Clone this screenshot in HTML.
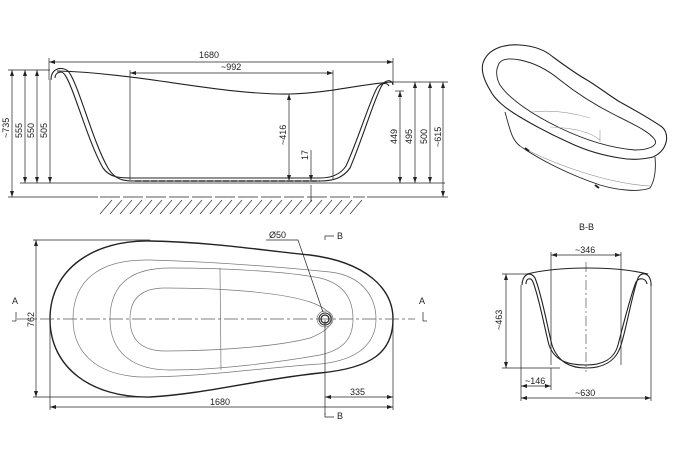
<!DOCTYPE html>
<html><head><meta charset="utf-8"><style>
html,body{margin:0;padding:0;background:#fff;}
svg{display:block;}
text{font-family:"Liberation Sans",sans-serif;font-size:9px;fill:#222;}
</style></head><body>
<svg width="673" height="456" viewBox="0 0 673 456" xmlns="http://www.w3.org/2000/svg">
<defs>
<marker id="a" markerWidth="6" markerHeight="6" refX="6" refY="3" orient="auto-start-reverse" markerUnits="userSpaceOnUse"><path d="M0,1 L6,3 L0,5 Z" fill="#222"/></marker>
</defs>
<g stroke="#222" fill="none" stroke-width="0.7">
<!-- ===== Side elevation ===== -->
<line x1="49" y1="62" x2="393" y2="62" marker-start="url(#a)" marker-end="url(#a)"/>
<line x1="49" y1="58" x2="49" y2="80"/><line x1="393" y1="58" x2="393" y2="85"/>
<line x1="130" y1="73" x2="333" y2="73" marker-start="url(#a)" marker-end="url(#a)"/>
<line x1="130" y1="70" x2="130" y2="180"/><line x1="333" y1="70" x2="333" y2="180"/>
<!-- left dims -->
<line x1="8" y1="70" x2="50" y2="70"/>
<line x1="12" y1="70" x2="12" y2="197" marker-start="url(#a)" marker-end="url(#a)"/>
<line x1="25" y1="70" x2="25" y2="183" marker-start="url(#a)" marker-end="url(#a)"/>
<line x1="37" y1="70" x2="37" y2="183" marker-start="url(#a)" marker-end="url(#a)"/>
<line x1="50" y1="80" x2="50" y2="183" marker-end="url(#a)"/>
<line x1="20" y1="183" x2="445" y2="183"/>
<line x1="8" y1="197" x2="98" y2="197"/>
<line x1="367" y1="197" x2="448" y2="197"/>
<line x1="100" y1="197" x2="365" y2="197" stroke-dasharray="20,3"/>
<!-- right dims -->
<line x1="390" y1="82" x2="448" y2="82"/>
<line x1="395" y1="91" x2="404" y2="91"/>
<line x1="400" y1="91" x2="400" y2="183" marker-start="url(#a)" marker-end="url(#a)"/>
<line x1="415" y1="82" x2="415" y2="183" marker-start="url(#a)" marker-end="url(#a)"/>
<line x1="430" y1="82" x2="430" y2="183" marker-start="url(#a)" marker-end="url(#a)"/>
<line x1="443" y1="82" x2="443" y2="197" marker-start="url(#a)" marker-end="url(#a)"/>
<line x1="289" y1="94" x2="289" y2="181" marker-start="url(#a)" marker-end="url(#a)"/>
<line x1="311" y1="150" x2="311" y2="181" marker-end="url(#a)"/>
<line x1="311" y1="185" x2="311" y2="202"/>
<!-- hatch -->
<g stroke-width="0.6">
<path d="M100,214 L112,200 M110,214 L122,200 M120,214 L132,200 M130,214 L142,200 M140,214 L152,200 M150,214 L162,200 M160,214 L172,200 M170,214 L182,200 M180,214 L192,200 M190,214 L202,200 M200,214 L212,200 M210,214 L222,200 M220,214 L232,200 M230,214 L242,200 M240,214 L252,200 M250,214 L262,200 M260,214 L272,200 M270,214 L282,200 M280,214 L292,200 M290,214 L302,200 M300,214 L312,200 M310,214 L322,200 M320,214 L332,200 M330,214 L342,200 M340,214 L352,200 M350,214 L362,200"/>
</g>
<!-- tub profile -->
<g stroke-width="1.1">
<path d="M51,80 C51,68 62,66 68,71 C78,82 92,140 108,168 C115,180 124,181 134,181 L320,181 C333,181 343,178 350,168 C362,140 374,100 381,87 C385,79 392,79 393,85"/>
<path d="M55,78 C55,72 62,70 65,75 C74,88 88,142 103,168 C110,178 120,178 134,178 L320,178 C331,178 340,175 346,166 C358,140 370,100 377,88 C380,83 387,82 389,86"/>
<path d="M57,71 C140,73 220,95 290,94 C330,93 360,84 392,82"/>
</g>
<path d="M135,181 L320,181" stroke-dasharray="6,2" stroke-width="2" stroke="#666"/>
<!-- ===== Plan view ===== -->
<path d="M50,319 C50,268 95,240 150,241 C210,242 260,250 310,255 C365,262 393,288 393,319 C393,352 372,368 320,373 C260,379 205,394 150,397 C92,398 50,368 50,319 Z" stroke-width="1.4"/>
<path d="M73,319 C73,280 100,259 150,260 C220,262 290,268 330,272 C365,276 376,300 376,319 C376,342 360,360 320,364 C260,368 210,376 150,377 C100,378 73,355 73,319 Z" stroke="#777"/>
<path d="M110,319 C110,285 130,268 170,268 C230,268 290,272 320,278 C345,284 353,300 353,319 C353,340 342,350 320,355 C280,362 220,370 170,370 C130,370 110,350 110,319 Z" stroke="#777"/>
<path d="M130,319 C130,298 142,288 165,288 C220,288 280,292 310,302 C325,307 332,314 332,319 C332,326 325,332 310,338 C280,346 220,351 165,351 C142,351 130,340 130,319 Z" stroke="#777"/>
<line x1="220" y1="268" x2="221" y2="370" stroke="#777"/>
<line x1="17" y1="319" x2="415" y2="319" stroke-dasharray="14,3,3,3" stroke="#555"/>
<circle cx="325" cy="319" r="8" stroke="#777"/><circle cx="325" cy="319" r="6" stroke-width="1"/><circle cx="325" cy="319" r="4" stroke-width="1.2"/>
<path d="M266,240 L298,240 L323,312"/>
<line x1="325" y1="320" x2="325" y2="415"/>
<line x1="33" y1="240" x2="150" y2="240"/><line x1="33" y1="397" x2="150" y2="397"/>
<line x1="36" y1="240" x2="36" y2="397" marker-start="url(#a)" marker-end="url(#a)"/>
<line x1="50" y1="319" x2="50" y2="410"/><line x1="393" y1="319" x2="393" y2="410"/>
<line x1="50" y1="407" x2="393" y2="407" marker-start="url(#a)" marker-end="url(#a)"/>
<line x1="325" y1="397" x2="393" y2="397" marker-start="url(#a)" marker-end="url(#a)"/>
<!-- section markers -->
<path d="M325,240 L325,236 L334,236"/><path d="M325,413 L325,417 L334,417"/>
<path d="M16,321 L16,312"/><path d="M423,321 L423,312"/>
<line x1="12" y1="321" x2="16" y2="321"/><line x1="423" y1="321" x2="427" y2="321"/>
<!-- ===== B-B section ===== -->
<line x1="551" y1="255" x2="621" y2="255" marker-start="url(#a)" marker-end="url(#a)"/>
<line x1="551" y1="252" x2="551" y2="365"/><line x1="621" y1="252" x2="621" y2="365"/>
<line x1="586" y1="262" x2="586" y2="372" stroke-dasharray="10,3,2,3" stroke="#555"/>
<line x1="502" y1="274" x2="530" y2="274"/><line x1="502" y1="368" x2="560" y2="368"/>
<line x1="506" y1="274" x2="506" y2="368" marker-start="url(#a)" marker-end="url(#a)"/>
<line x1="521" y1="285" x2="521" y2="401"/><line x1="651" y1="285" x2="651" y2="401"/>
<line x1="551" y1="368" x2="551" y2="390"/>
<line x1="521" y1="386" x2="551" y2="386" marker-start="url(#a)" marker-end="url(#a)"/>
<line x1="521" y1="398" x2="651" y2="398" marker-start="url(#a)" marker-end="url(#a)"/>
<g stroke-width="1.1">
<path d="M522,285 C522,275 530,270 535,278 C542,295 548,330 552,345 C558,362 570,368 586,368 C602,368 616,362 621,345 C626,330 632,295 638,278 C642,270 652,274 651,286"/>
<path d="M526,284 C526,278 531,277 533,282 C539,297 545,330 549,345 C555,362 570,365 586,365 C602,365 614,360 618,345 C622,330 630,297 636,282 C639,277 646,278 647,284"/>
<path d="M527,274 C560,266 615,266 648,274"/>
</g>
<!-- ===== Isometric view ===== -->
<g stroke-width="1.1">
<path d="M483,63 C488,48 505,44 520,45 C535,46 545,50 553,57 C568,68 578,75 587,80 C600,88 610,96 620,102 C640,113 652,120 662,127 C670,134 668,150 653,157 C640,160 630,160 620,158 C600,155 585,150 570,143 C550,134 535,126 520,117 C505,108 495,100 490,90 C484,80 481,70 483,63 Z"/>
<path d="M498,66 C500,58 510,58 520,60 C535,63 548,70 560,80 C575,92 595,105 615,115 C635,125 650,132 655,140 C658,146 648,150 635,150 C610,148 585,140 560,128 C535,116 510,100 500,85 C496,78 496,70 498,66 Z" stroke-width="0.9"/>
<path d="M505,112 C510,130 512,140 520,146 C540,160 570,175 600,185 C620,191 640,192 650,188 C655,180 656,168 655,157" stroke-width="0.9"/>
<path d="M520,146 C540,158 600,183 650,186" stroke="#888" stroke-width="0.6"/>
</g>
<path d="M532,112 C550,110 570,112 590,118 M550,127 C575,128 590,132 600,140 M600,130 L600,142" stroke="#999" stroke-width="0.6"/>
<path d="M525,148 l4,3 M595,185 l4,3" stroke-width="2"/>
</g>
<!-- text -->
<text x="199" y="58">1680</text>
<text x="221" y="70">~992</text>
<text transform="translate(9,138) rotate(-90)">~735</text>
<text transform="translate(22,138) rotate(-90)">555</text>
<text transform="translate(34,138) rotate(-90)">550</text>
<text transform="translate(47,138) rotate(-90)">505</text>
<text transform="translate(286,145) rotate(-90)">~416</text>
<text transform="translate(308,160) rotate(-90)">17</text>
<text transform="translate(397,144) rotate(-90)">449</text>
<text transform="translate(412,144) rotate(-90)">495</text>
<text transform="translate(427,144) rotate(-90)">500</text>
<text transform="translate(441,147) rotate(-90)">~615</text>
<text x="269" y="238">Ø50</text>
<text x="337" y="239">B</text>
<text x="337" y="419">B</text>
<text x="12" y="304">A</text>
<text x="419" y="304">A</text>
<text transform="translate(34,327) rotate(-90)">762</text>
<text x="210" y="405">1680</text>
<text x="350" y="395">335</text>
<text x="579" y="230">B-B</text>
<text x="575" y="253">~346</text>
<text transform="translate(502,330) rotate(-90)">~463</text>
<text x="525" y="384">~146</text>
<text x="575" y="396">~630</text>
</svg>
</body></html>
